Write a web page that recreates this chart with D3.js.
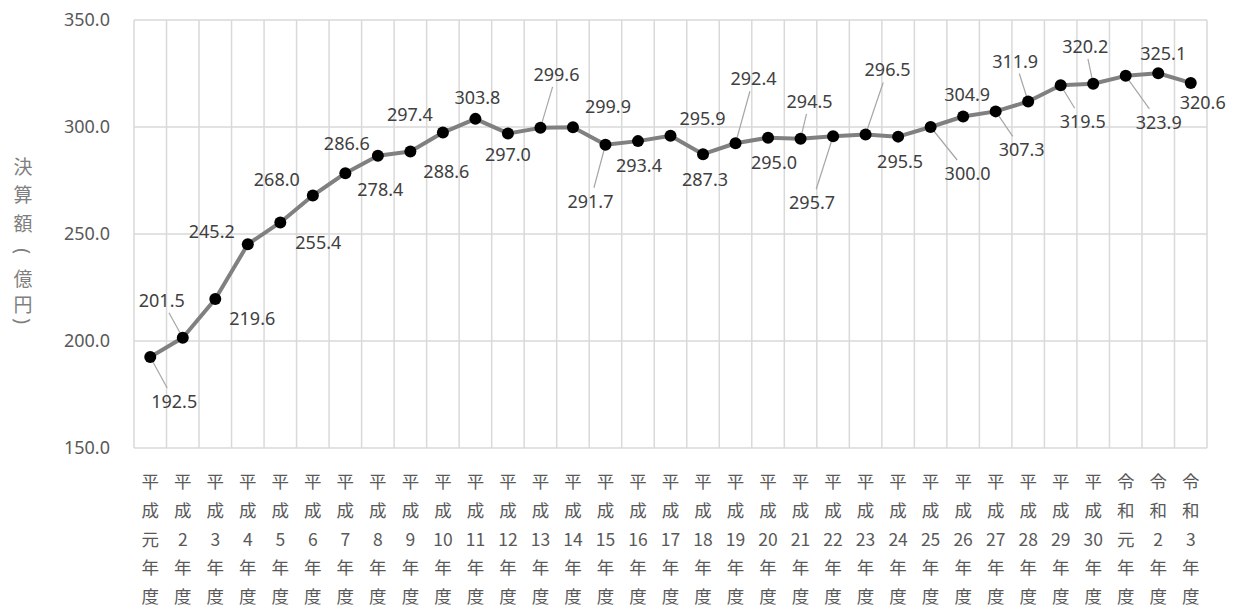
<!DOCTYPE html>
<html>
<head>
<meta charset="utf-8">
<script src="https://cdn.jsdelivr.net/npm/d3@7"></script>
<style>
  body { margin: 0; background: #fff; }
  text { font-family: "Noto Sans", "Noto Sans CJK JP", sans-serif; }
</style>
</head>
<body>
<div id="chart"></div>
<script>
// data
var eras = ['平成', '平成', '平成', '平成', '平成', '平成', '平成', '平成', '平成', '平成',
            '平成', '平成', '平成', '平成', '平成', '平成', '平成', '平成', '平成', '平成',
            '平成', '平成', '平成', '平成', '平成', '平成', '平成', '平成', '平成', '平成',
            '令和', '令和', '令和'];
var years = ['元', '2', '3', '4', '5', '6', '7', '8', '9', '10', '11', '12', '13', '14', '15',
             '16', '17', '18', '19', '20', '21', '22', '23', '24', '25', '26', '27', '28', '29', '30',
             '元', '2', '3'];
var amounts = [192.5, 201.5, 219.6, 245.2, 255.4, 268.0, 278.4, 286.6, 288.6, 297.4,
               303.8, 297.0, 299.6, 299.9, 291.7, 293.4, 295.9, 287.3, 292.4, 295.0,
               294.5, 295.7, 296.5, 295.5, 300.0, 304.9, 307.3, 311.9, 319.5, 320.2,
               323.9, 325.1, 320.6];
var yTicks = [150, 200, 250, 300, 350];
var yTitle = ['決', '算', '額', '(', '億', '円', ')'];

// label placement (offset from point, and whether a leader line is drawn)
var labelPos = [
  [24, 44, 1], [-21, -38, 1], [37, 19, 0], [-36, -13, 0], [38, 20, 0],
  [-36, -16, 0], [35, 16, 0], [-31, -13, 0], [36, 20, 0], [-33, -19, 0],
  [2, -22, 0], [0, 21, 0], [16, -54, 1], [35, -21, 0], [-15, 56, 1],
  [1, 24, 0], [32, -18, 0], [2, 25, 0], [18, -65, 1], [6, 24, 0],
  [9, -38, 1], [-21, 66, 1], [22, -65, 1], [2, 24, 0], [37, 46, 1],
  [4, -23, 0], [26, 38, 1], [-13, -41, 1], [22, 36, 1], [-8, -38, 1],
  [33, 46, 1], [5, -20, 0], [12, 19, 0]
];

var data = amounts.map(function(v, i) {
  return { idx: i, era: eras[i], year: years[i], value: v };
});

var svgWidth = 1241, svgHeight = 608;
var margin = { top: 20, right: 34, bottom: 160, left: 134 };
var width = svgWidth - margin.left - margin.right;
var height = svgHeight - margin.top - margin.bottom;

var svg = d3.select('#chart').append('svg')
  .attr('width', svgWidth)
  .attr('height', svgHeight);

var chartGroup = svg.append('g')
  .attr('transform', `translate(${margin.left}, ${margin.top})`);

var xScale = d3.scaleBand()
  .domain(data.map(d => d.idx))
  .range([0, width]);

var yScale = d3.scaleLinear()
  .domain([150, 350])
  .range([height, 0]);

// gridlines
chartGroup.selectAll('.hgrid')
  .data(yTicks)
  .enter()
  .append('line')
  .attr('x1', 0)
  .attr('x2', width)
  .attr('y1', d => yScale(d))
  .attr('y2', d => yScale(d))
  .attr('stroke', '#d9d9d9')
  .attr('stroke-width', 1.5);

var bounds = data.map(d => xScale(d.idx)).concat([width]);
chartGroup.selectAll('.vgrid')
  .data(bounds)
  .enter()
  .append('line')
  .attr('x1', d => d)
  .attr('x2', d => d)
  .attr('y1', 0)
  .attr('y2', height)
  .attr('stroke', '#d9d9d9')
  .attr('stroke-width', 1.5);

// y axis labels
var yAxis = d3.axisLeft(yScale).tickValues(yTicks).tickFormat(d3.format('.1f')).tickSize(0).tickPadding(24);
var yG = chartGroup.append('g').call(yAxis);
yG.select('.domain').remove();
yG.selectAll('text')
  .style('font-size', '18px')
  .style('fill', '#595959')
  .style('font-family', '"Noto Sans", "Noto Sans CJK JP", sans-serif');

// y title, stacked; parentheses turned to the vertical form
var titleY = [165, 193, 222, 251, 277, 303, 321];
svg.selectAll('.ytitle')
  .data(yTitle)
  .enter()
  .append('text')
  .attr('transform', (d, i) => `translate(23, ${titleY[i]})` + (d === '(' || d === ')' ? ' rotate(90)' : ''))
  .attr('text-anchor', 'middle')
  .attr('dominant-baseline', 'central')
  .style('font-family', d => (d === '(' || d === ')') ? '"Noto Sans", sans-serif' : '"Noto Sans CJK JP", sans-serif')
  .style('font-size', '19px')
  .style('fill', '#7f7f7f')
  .text(d => d);

// x labels (stacked characters)
var rowStep = 28.8;
var xLabels = chartGroup.selectAll('.xlab')
  .data(data)
  .enter()
  .append('text')
  .attr('text-anchor', 'middle')
  .style('font-family', '"Noto Sans CJK JP", sans-serif')
  .style('font-size', '17.5px')
  .style('fill', '#595959');

xLabels.each(function(d) {
  var parts = [d.era[0], d.era[1], d.year, '年', '度'];
  var cx = xScale(d.idx) + xScale.bandwidth() / 2;
  d3.select(this).selectAll('tspan')
    .data(parts)
    .enter()
    .append('tspan')
    .attr('x', cx)
    .attr('y', (p, j) => height + 40 + j * rowStep)
    .text(p => p);
});

// line
var line = d3.line()
  .x(d => xScale(d.idx) + xScale.bandwidth() / 2)
  .y(d => yScale(d.value));

chartGroup.append('path')
  .datum(data)
  .attr('d', line)
  .attr('fill', 'none')
  .attr('stroke', '#808080')
  .attr('stroke-width', 4)
  .attr('stroke-linejoin', 'round');

// leader lines: from the point towards the label, stopping at its box
var halfW = 28, halfH = 13;
function leaderT(d) {
  var dx = labelPos[d.idx][0], dy = labelPos[d.idx][1];
  return 1 - Math.min(halfW / Math.abs(dx || 1e-6), halfH / Math.abs(dy || 1e-6));
}
chartGroup.selectAll('.leader')
  .data(data.filter(d => labelPos[d.idx][2]))
  .enter()
  .append('line')
  .attr('x1', d => xScale(d.idx) + xScale.bandwidth() / 2)
  .attr('y1', d => yScale(d.value))
  .attr('x2', d => xScale(d.idx) + xScale.bandwidth() / 2 + labelPos[d.idx][0] * leaderT(d))
  .attr('y2', d => yScale(d.value) + labelPos[d.idx][1] * leaderT(d))
  .attr('stroke', '#a6a6a6')
  .attr('stroke-width', 1.2);

// markers
chartGroup.selectAll('circle')
  .data(data)
  .enter()
  .append('circle')
  .attr('cx', d => xScale(d.idx) + xScale.bandwidth() / 2)
  .attr('cy', d => yScale(d.value))
  .attr('r', 6)
  .attr('fill', '#000');

// data labels
chartGroup.selectAll('.dlabel')
  .data(data)
  .enter()
  .append('text')
  .attr('x', d => xScale(d.idx) + xScale.bandwidth() / 2 + labelPos[d.idx][0])
  .attr('y', d => yScale(d.value) + labelPos[d.idx][1])
  .attr('text-anchor', 'middle')
  .attr('dominant-baseline', 'central')
  .style('font-size', '18px')
  .style('fill', '#404040')
  .text(d => d3.format('.1f')(d.value));
</script>
</body>
</html>
